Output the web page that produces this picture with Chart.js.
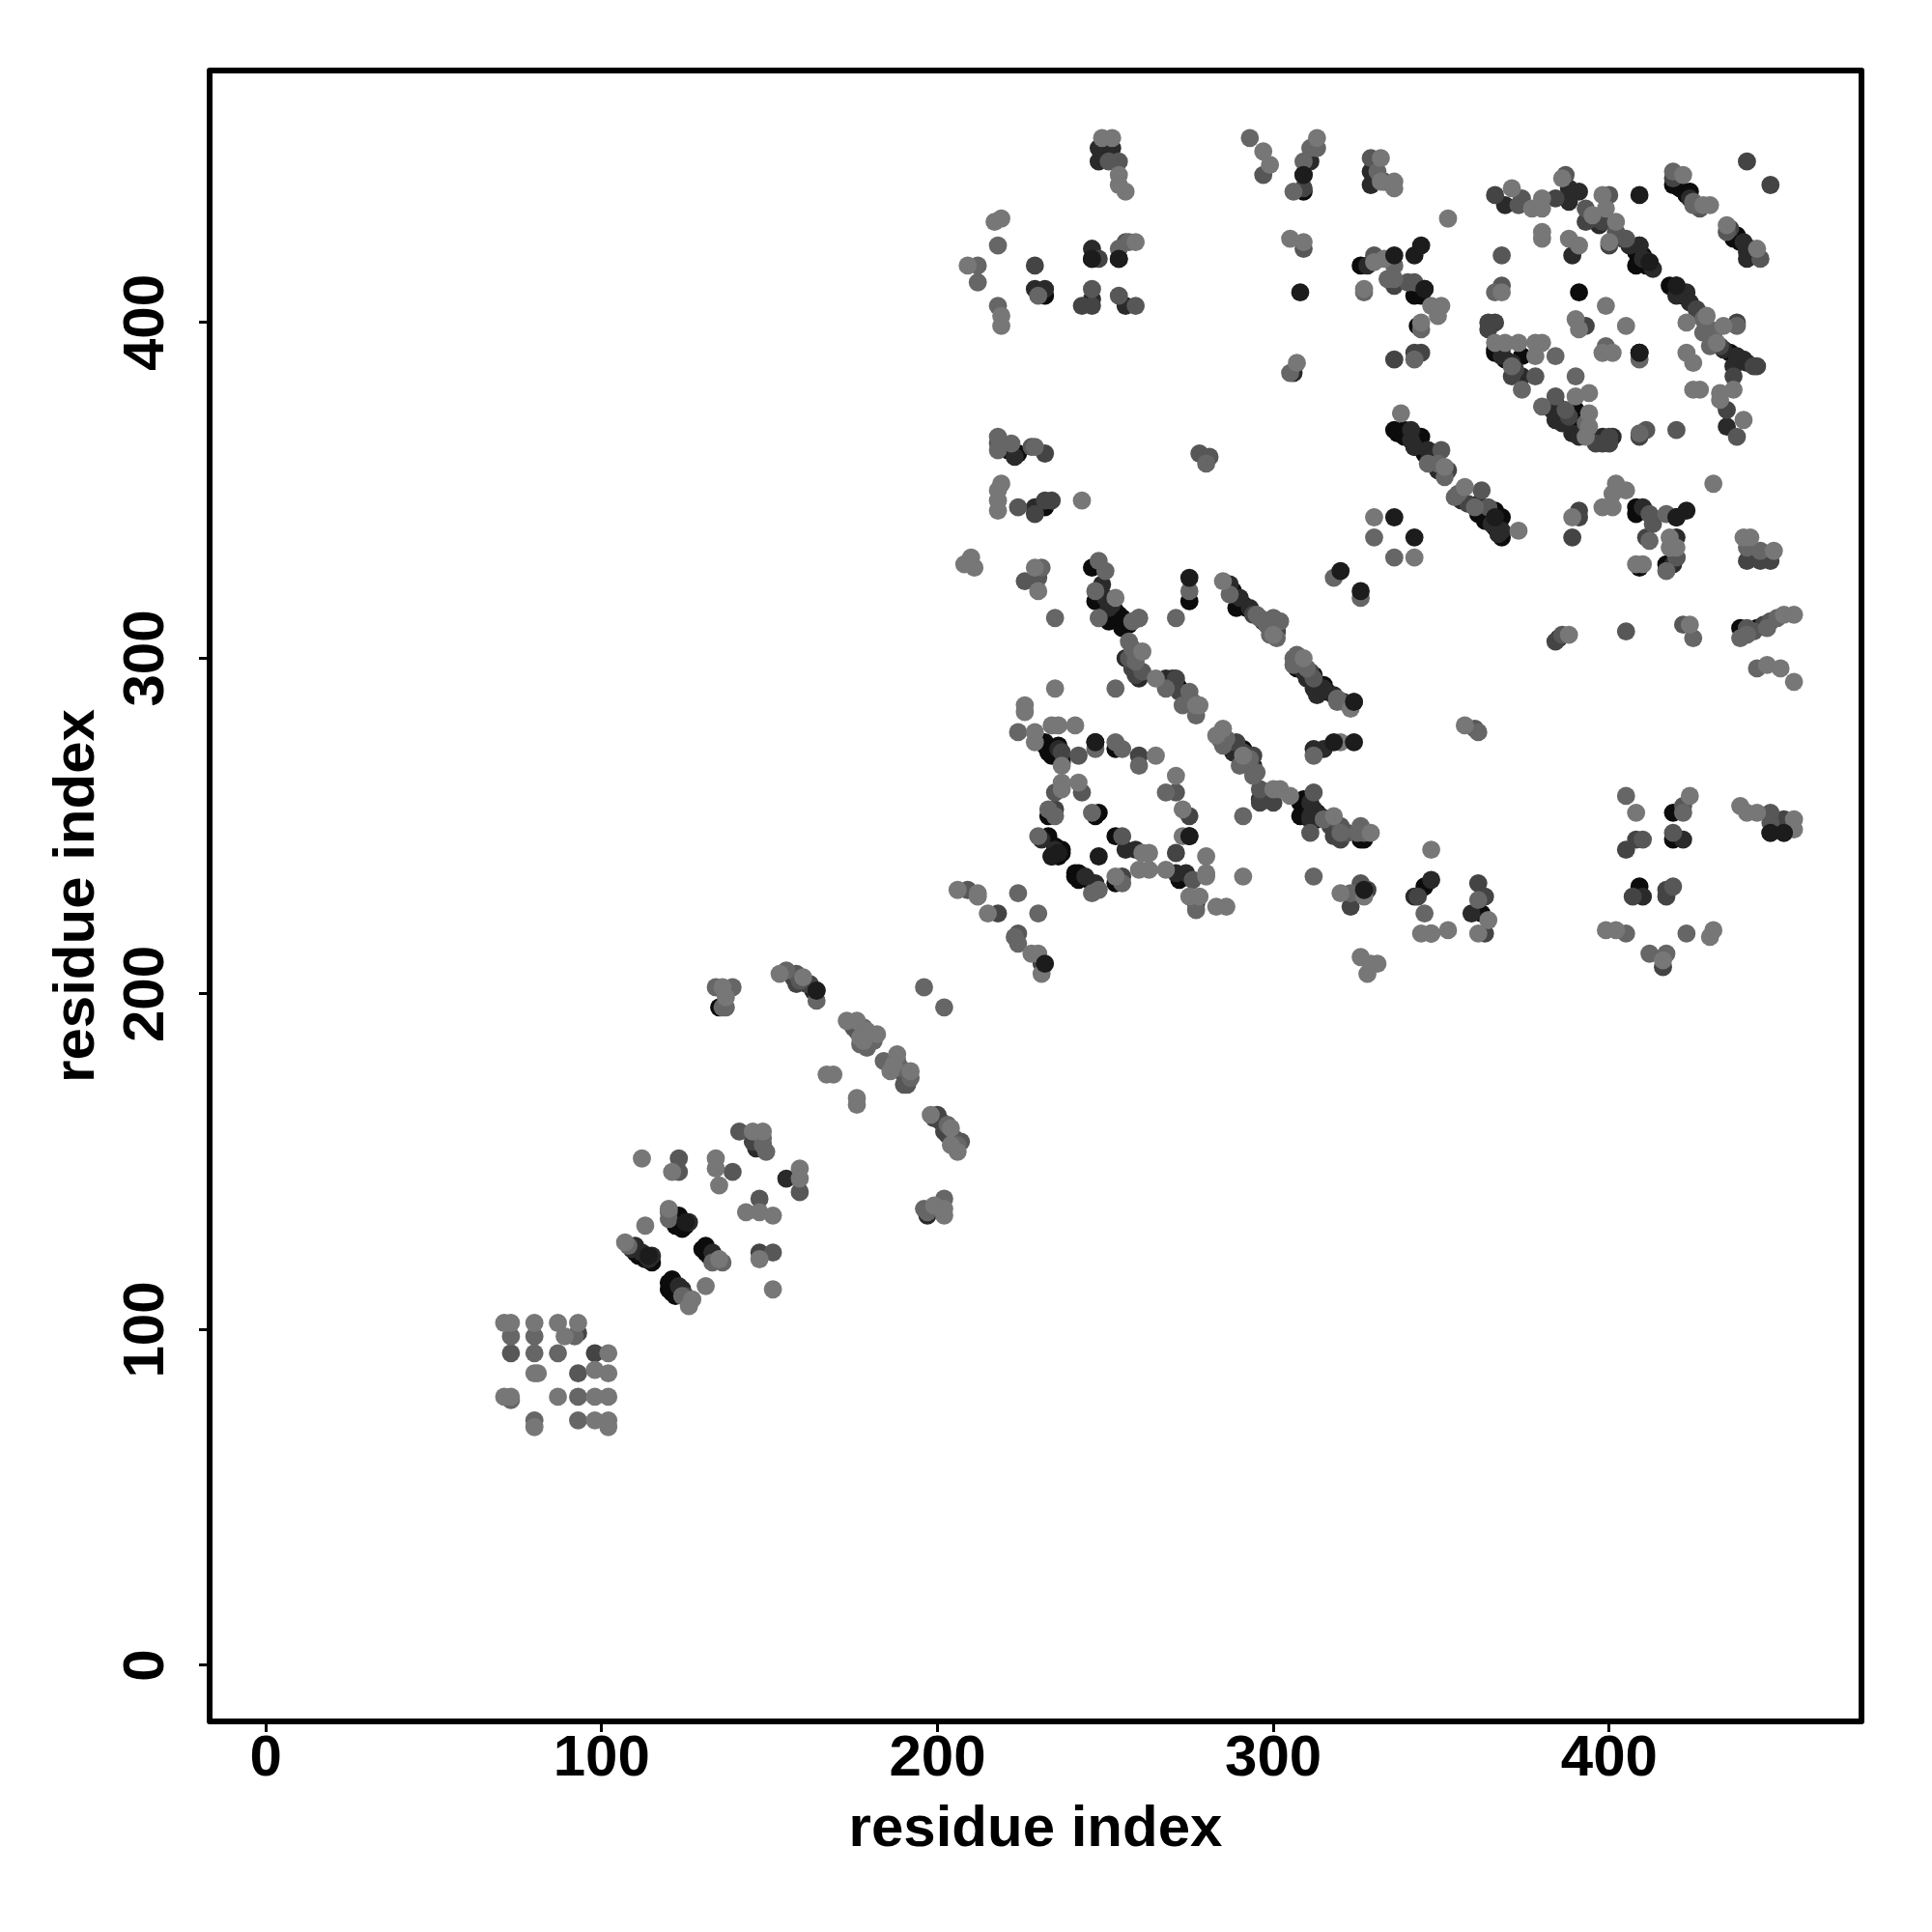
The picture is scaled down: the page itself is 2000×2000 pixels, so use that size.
<!DOCTYPE html>
<html>
<head>
<meta charset="utf-8">
<title>residue contacts</title>
<script src="https://cdn.jsdelivr.net/npm/chart.js@4"></script>
<style>
  html, body { margin: 0; padding: 0; background: #fff; }
  canvas { display: block; }
</style>
</head>
<body>
<canvas id="contacts" width="2000" height="2000"></canvas>
<script>
// contacts, grouped by how dark the dot is: [residue, residue]
const tickValues = [0, 100, 200, 300, 400];

const contactsBlack = [[123,134],[125,132],[122,131],[111,122],[113,121],[131,125],[131,123],[121,115],[120,112],[135,196],
  [272,291],[307,297],[315,292],[308,257],[308,253],[311,252],[291,273],[233,253],[232,274],[236,274],[234,271],[237,269],
  [248,254],[247,253],[233,247],[235,242],[234,241],[237,242],[242,236],[241,235],[253,247],[253,233],[272,234],[275,247],
  [247,275],[253,273],[326,246],[309,444],[309,439],[246,419],[254,419],[232,408],[232,345],[224,361],[221,362],[326,417],
  [342,408],[345,410],[344,408],[343,399],[344,366],[342,363],[339,368],[336,368],[246,327],[247,317],[254,313],[275,317],
  [289,315],[292,315],[366,391],[374,390],[390,374],[390,370],[409,423],[410,420],[408,417],[391,409],[409,391],[437,425],
  [418,411],[420,411],[408,345],[408,343],[420,342],[417,328],[409,327],[366,344],[363,343],[368,342],[368,336],[439,309],
  [444,309],[419,254],[345,232],[362,224],[419,246],[409,232],[424,439],[419,441],[439,424],[251,311],[255,309],[301,308],
  [253,314],[255,312],[257,310],[258,298],[269,292],[271,293],[288,320],[291,316],[300,309],[308,299],[312,295],[314,292],
  [316,290],[288,274],[290,273],[309,258],[309,255],[310,254],[313,252],[313,254],[235,244],[236,241],[237,243],[241,236],
  [243,235],[242,234],[246,233],[232,275],[233,272],[235,272],[237,270],[327,246],
  [337,367],[339,366],[343,364],[345,361],[361,343],[363,341],[366,339],[436,391],[438,426],[442,422],[421,409],[422,408],
  [408,421],[411,417],[420,441],[421,440],[423,438],[366,392],[369,389],[385,372],[391,371],[392,367],[110,123],[112,122],
  [115,120],[122,133],[124,130],[125,131],[130,124],[132,122],[120,114],[121,111],[123,112],[122,110]];

const contactsDark = [[155,145],[148,155],[110,125],[133,123],[112,123],[115,122],[123,113],[197,134],
  [270,294],[268,294],[260,294],[310,294],[312,291],[313,289],[318,289],[312,273],[315,273],[296,258],[288,272],[294,268],
  [312,255],[314,253],[311,252],[235,243],[231,246],[244,235],[247,233],[256,243],[259,243],[271,236],[274,236],[277,227],
  [248,452],[252,452],[248,448],[311,448],[329,445],[329,441],[246,422],[229,410],[232,410],[246,407],[256,405],[229,345],
  [223,360],[306,385],[328,417],[341,368],[342,363],[346,362],[349,356],[251,315],[388,440],[391,439],[388,436],[369,435],
  [368,390],[374,384],[389,420],[384,371],[383,374],[389,367],[400,365],[409,423],[412,418],[423,409],[420,408],[434,392],
  [440,389],[437,387],[435,369],[361,346],[368,338],[410,345],[420,336],[419,328],[347,234],[342,229],[359,224],[410,229],
  [422,246],[441,421],[441,419],[249,322],[250,318],[252,316],[260,312],[287,322],[290,318],[293,315],[297,311],[256,300],
  [268,293],[274,288],[292,271],[309,296],[315,291],[311,257],[311,253],[318,249],[236,273],
  [341,365],[347,360],[356,347],[365,340],[367,337],[438,390],[441,388],[440,424],[444,420],[424,406],[397,429],[406,423],
  [410,419],[413,416],[424,437],[368,392],[371,388],[384,376],[386,370],[391,366],[398,366],[401,366],[385,306],[109,124],
  [114,121],[126,132],[134,121],[124,112],[163,201],[146,154]];

const contactsMid = [[93,99],[98,93],[147,123],[158,203],[162,203],[164,201],[202,159],[201,162],[200,164],
  [294,271],[289,275],[296,257],[300,257],[318,247],[274,289],[271,294],[258,297],[324,287],[260,271],[271,242],[275,253],
  [235,255],[255,235],[328,231],[323,226],[218,224],[231,209],[248,419],[229,417],[246,405],[243,405],[232,361],[234,347],
  [232,347],[229,343],[309,440],[342,391],[344,391],[336,389],[336,411],[366,438],[398,430],[393,430],[400,423],[384,437],
  [393,399],[364,400],[366,400],[364,398],[371,384],[435,374],[398,364],[400,364],[409,366],[438,400],[444,387],[437,384],
  [391,344],[391,342],[389,336],[411,336],[420,330],[441,329],[445,329],[448,329],[441,448],[448,441],[448,248],[452,248],
  [452,252],[408,246],[405,243],[343,229],[361,233],[363,229],[416,208],[417,229],[417,231],[347,218],[407,229],[363,218],
  [294,313],[301,308],[259,295],[272,290],[287,275],[291,272],[293,268],[311,296],[317,250],[320,246],[321,287],[237,272],
  [352,356],[358,346],[433,393],[443,387],[436,428],[426,404],[395,431],[404,425],[419,443],[372,386],[388,372],[396,364],
  [400,366],[384,305],[446,310],[125,110],[157,205],[161,203],[176,189],[186,178],[199,163],[203,158],[145,156]];

const contactsSoft = [[93,87],[73,93],[123,151],[123,147],[139,147],[141,159],[159,141],[147,139],[151,123],[158,206],[175,190],
  [191,173],[207,156],[296,261],[257,300],[261,296],[312,294],[312,260],[311,248],[320,250],[322,248],[242,271],[235,260],
  [243,260],[271,260],[255,247],[276,234],[209,231],[224,218],[254,448],[251,448],[297,444],[329,449],[333,442],[330,420],
  [256,424],[246,410],[254,408],[259,405],[309,422],[340,412],[342,412],[218,364],[228,363],[278,361],[281,360],[224,345],
  [350,362],[226,323],[230,324],[362,350],[364,345],[412,343],[413,340],[420,330],[368,420],[368,411],[374,437],[373,435],
  [387,444],[400,438],[405,425],[378,384],[384,378],[387,374],[411,368],[420,368],[438,366],[435,427],[445,419],[427,434],
  [422,310],[441,309],[360,279],[422,256],[448,254],[448,251],[419,248],[410,246],[419,232],[405,308],[326,233],
  [431,396],[393,434],[402,427],[386,307],[443,308],[448,311],[159,204],[175,191],[190,176],[190,173],[205,157]];

const contactsGrey = [[73,98],[80,98],[92,98],[80,93],[87,93],[93,80],[80,73],[73,79],[93,73],[120,133],[133,120],[124,110],[134,202],[139,202],
  [196,202],[202,196],[164,198],[202,139],[196,136],[136,196],[137,196],[148,155],[257,305],[268,291],[273,286],[277,283],
  [306,300],[307,301],[319,287],[312,271],[286,276],[285,274],[290,268],[294,265],[291,253],[326,250],[327,248],[253,291],
  [224,278],[253,275],[247,273],[255,273],[260,268],[268,260],[233,255],[235,253],[246,254],[230,247],[248,231],[246,230],
  [255,233],[277,225],[323,230],[224,230],[230,224],[223,217],[224,215],[293,455],[311,452],[313,452],[309,448],[306,439],
  [331,445],[218,423],[212,417],[212,412],[254,422],[257,424],[230,408],[218,405],[305,385],[336,417],[327,409],[334,413],
  [336,413],[344,398],[342,389],[218,366],[218,362],[222,364],[229,363],[280,358],[346,358],[330,336],[336,330],[318,324],
  [326,318],[231,327],[248,329],[250,326],[247,320],[260,312],[248,312],[235,312],[275,320],[271,312],[287,319],[295,313],
  [300,312],[384,390],[371,387],[374,380],[390,384],[399,393],[409,389],[438,399],[366,409],[430,398],[430,393],[409,367],
  [380,375],[355,349],[412,335],[417,343],[417,326],[441,333],[445,332],[419,445],[425,435],[425,306],[439,306],[447,309],
  [444,297],[361,278],[405,259],[422,254],[345,224],[361,228],[405,218],[412,212],[417,212],[423,218],[312,235],
  [258,311],[296,312],[298,310],[301,306],[299,307],[302,311],[259,299],[275,290],[276,287],[284,276],[293,270],[295,266],
  [315,252],[320,248],[325,248],[306,298],[310,297],[319,288],[349,358],[351,354],[354,348],[360,345],[428,397],[428,401],
  [425,436],[393,370],[441,307],[450,312],[108,125],[120,135],[136,120],[155,207],[178,190],[180,188],[181,186],[177,185],
  [179,184],[184,180],[188,180],[189,178],[192,175],[203,161],[206,155],[197,135],[149,153],[148,157],[258,303],[259,301]];

const contactsLight = [[71,102],[73,102],[80,102],[87,102],[93,102],[89,98],[102,93],[98,88],[102,87],[80,87],[81,87],[71,80],[73,80],[87,80],
  [102,80],[98,80],[102,73],[102,71],[98,73],[80,71],[112,151],[121,147],[134,151],[134,148],[135,143],[145,159],[148,159],
  [159,148],[159,145],[143,135],[147,135],[151,134],[147,121],[151,112],[120,136],[113,131],[107,126],[135,121],[127,109],
  [126,107],[131,113],[136,202],[137,199],[153,206],[160,205],[176,192],[179,189],[182,188],[178,186],[177,187],[173,192],
  [188,182],[192,177],[187,179],[167,176],[169,176],[176,169],[176,167],[198,164],[204,160],[206,153],[202,136],[202,134],
  [199,137],[261,302],[265,294],[277,286],[278,286],[309,300],[323,285],[320,275],[283,277],[285,279],[291,271],[300,261],
  [302,261],[305,259],[318,253],[329,248],[235,291],[226,286],[226,284],[229,278],[229,275],[234,280],[236,280],[241,280],
  [237,268],[265,271],[271,265],[273,255],[273,247],[280,241],[280,236],[237,263],[242,263],[237,261],[261,242],[263,242],
  [260,237],[263,237],[253,235],[268,237],[280,235],[275,229],[278,229],[283,226],[286,226],[291,235],[320,230],[327,229],
  [206,231],[212,230],[212,229],[215,224],[228,212],[230,212],[231,206],[326,211],[329,209],[331,209],[328,206],[249,455],
  [252,455],[254,444],[254,441],[256,439],[297,451],[299,447],[313,455],[332,449],[332,442],[336,442],[336,440],[217,430],
  [219,431],[219,402],[219,399],[209,417],[259,424],[305,425],[309,424],[307,388],[330,418],[333,419],[327,410],[347,405],
  [350,405],[349,402],[344,400],[219,352],[218,350],[218,347],[218,344],[243,347],[338,373],[351,357],[330,342],[342,330],
  [210,330],[211,327],[208,328],[229,327],[230,320],[253,318],[285,323],[352,431],[371,440],[377,434],[380,437],[380,434],
  [386,443],[398,438],[399,434],[395,432],[402,430],[400,424],[380,427],[380,425],[388,425],[391,423],[368,409],[399,405],
  [405,399],[390,401],[391,398],[366,394],[369,394],[373,394],[378,394],[380,394],[378,390],[398,391],[401,391],[423,391],
  [425,388],[423,400],[429,402],[434,399],[432,394],[425,380],[427,380],[433,379],[437,380],[433,377],[440,371],[390,378],
  [394,379],[394,373],[394,369],[393,366],[431,352],[357,351],[373,338],[402,352],[405,350],[401,349],[401,345],[398,345],
  [389,342],[418,336],[420,333],[418,333],[408,328],[410,328],[440,336],[442,336],[449,332],[422,444],[428,435],[430,435],
  [435,429],[444,422],[388,307],[424,310],[452,313],[455,313],[447,298],[451,297],[455,293],[357,280],[408,254],[424,259],
  [439,256],[441,254],[444,254],[455,252],[455,249],[347,243],[344,218],[347,218],[352,219],[364,222],[361,218],[399,219],
  [402,219],[431,219],[430,217],[416,210],[300,307],[186,177],[204,155]];

// the dark dots that sit on top of the lighter ones
const contactsTopDark = [[336,420],[342,420],[344,423],[336,342],[342,336],[320,326],[326,320],[409,438],[275,324],[247,275],
  [324,275],[318,275],[308,409],[248,241],[236,242],[275,247],[409,391],[246,419],[254,419],[309,444],[345,410],[420,411],
  [412,418],[420,342],[423,344],[366,342],[234,241],[125,132],[114,122],[324,287],[327,231],[164,201],[232,209],[448,248],[452,248]];

// Chart.js paints the first dataset last, so the top layer comes first here
const contactLayers = [
  { name: 'top', points: contactsTopDark, colour: '#1c1c1c' },
  { name: 'light', points: contactsLight, colour: '#777777' },
  { name: 'grey', points: contactsGrey, colour: '#666666' },
  { name: 'soft', points: contactsSoft, colour: '#575757' },
  { name: 'mid', points: contactsMid, colour: '#444444' },
  { name: 'dark', points: contactsDark, colour: '#2a2a2a' },
  { name: 'black', points: contactsBlack, colour: '#0c0c0c' }
];

const boxFrame = {
  id: 'boxFrame',
  afterDraw(chart) {
    const { ctx, chartArea: a } = chart;
    ctx.save();
    ctx.strokeStyle = '#000';
    ctx.lineWidth = 6;
    ctx.lineJoin = 'round';
    ctx.strokeRect(a.left, a.top, a.right - a.left, a.bottom - a.top);
    ctx.restore();
  }
};

const axisFont = { family: '"Liberation Sans"', size: 60, weight: 'bold' };

function residueAxis(extra) {
  return Object.assign({
    type: 'linear',
    min: -16.7,
    max: 475.1,
    afterBuildTicks: scale => { scale.ticks = tickValues.map(v => ({ value: v })); },
    grid: { display: true, drawOnChartArea: false, drawTicks: true, tickLength: 11, tickWidth: 3, tickColor: '#000' },
    border: { display: false }
  }, extra);
}

new Chart(document.getElementById('contacts'), {
  type: 'scatter',
  plugins: [boxFrame],
  data: {
    datasets: contactLayers.map(layer => ({
      label: layer.name,
      data: layer.points.map(p => ({ x: p[0], y: p[1] })),
      backgroundColor: layer.colour,
      borderWidth: 0,
      pointRadius: 9.4,
      pointHoverRadius: 9.4
    }))
  },
  options: {
    responsive: false,
    animation: false,
    layout: { padding: { top: 73, right: 73, left: 0, bottom: 0 } },
    plugins: { legend: { display: false }, tooltip: { enabled: false } },
    scales: {
      x: residueAxis({
        afterFit: s => { s.height = 218; },
        ticks: { color: '#000', font: axisFont, padding: -8, maxRotation: 0, autoSkip: false },
        title: { display: true, text: 'residue index', color: '#000', font: axisFont, padding: { top: 0, bottom: 70 } }
      }),
      y: residueAxis({
        afterFit: s => { s.width = 217; },
        ticks: { color: '#000', font: axisFont, padding: 3, minRotation: 90, maxRotation: 90, crossAlign: 'center', autoSkip: false },
        title: { display: true, text: 'residue index', color: '#000', font: axisFont, padding: { top: 44, bottom: 0 } }
      })
    }
  }
});
</script>
</body>
</html>
